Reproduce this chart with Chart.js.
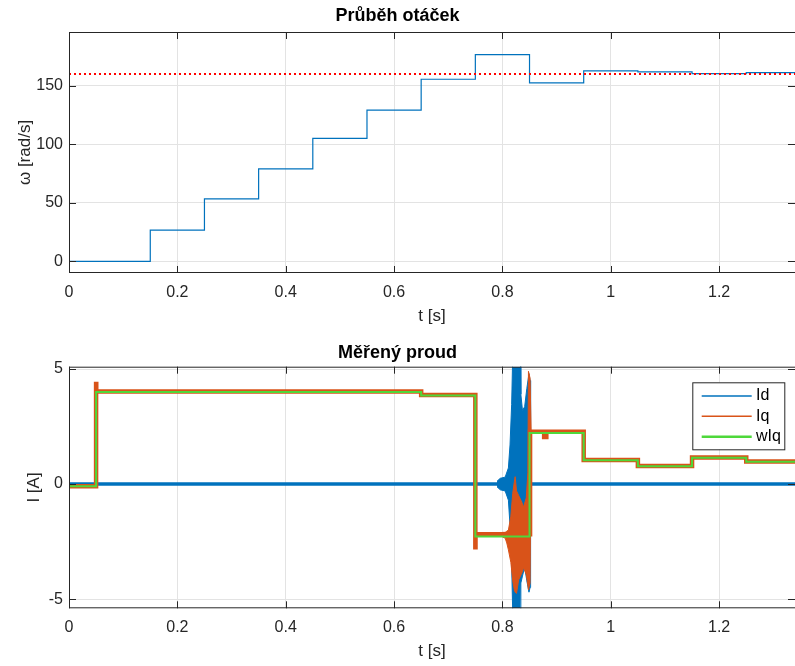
<!DOCTYPE html>
<html>
<head>
<meta charset="utf-8">
<script src="https://cdn.jsdelivr.net/npm/chart.js@4/dist/chart.umd.min.js"></script>
<style>
  html, body { margin: 0; padding: 0; background: #fff; }
  #wrap { position: relative; width: 795px; height: 666px; overflow: hidden; }
  canvas { position: absolute; left: 0; }
  #speed { top: 0; }
  #current { top: 335px; }
</style>
</head>
<body>
<div id="wrap">
  <canvas id="speed" width="795" height="335"></canvas>
  <canvas id="current" width="795" height="331"></canvas>
</div>
<script>
const T_MAX = 1.34;

// Průběh otáček – skoky po 0.1 s
const speedT = [0, 0.15, 0.25, 0.35, 0.45, 0.55, 0.65, 0.75, 0.85, 0.95, 1.05, 1.15, 1.25, 1.34];
const speedW = [0, 26.6, 53.4, 79, 105, 129.2, 155.6, 176.6, 152.5, 162.7, 161.9, 160.5, 161.3, 161.3];
const refT = [0, 1.34];
const refW = [160, 160];

// Měřený proud
const idT = [0, 1.34];
const idI = [0, 0];
const iqT = [0, 0.05, 0.0503, 0.65, 0.75, 0.7503, 0.851, 0.877, 0.881, 0.95, 1.05, 1.15, 1.25, 1.34];
const iqI = [-0.1, 4.35, 4.02, 3.87, -2.75, -2.18, 2.27, 2.05, 2.27, 1.04, 0.78, 1.15, 0.98, 0.98];
const wiqT = [0, 0.05, 0.65, 0.75, 0.85, 0.95, 1.05, 1.15, 1.25, 1.34];
const wiqI = [-0.1, 4.0, 3.85, -2.28, 2.22, 1.03, 0.77, 1.14, 0.97, 0.97];

// rozkmit kolem 0.82 s – horní a dolní obálka
const idBurstT  = [0.790, 0.796, 0.805, 0.811, 0.814, 0.817, 0.819, 0.833, 0.834, 0.837, 0.841, 0.845, 0.849, 0.851, 0.852];
const idBurstHi = [0.12, 0.25, 0.3, 0.7, 1.7, 3.45, 5.6, 5.6, 3.9, 3.2, 3.36, 4.15, 4.8, 4.5, 0.15];
const idBurstLo = [-0.12, -0.25, -0.3, -0.7, -1.8, -3.5, -5.6, -5.6, -4.3, -4.0, -3.6, -4.2, -4.7, -4.5, -0.15];
const iqBurstT  = [0.800, 0.805, 0.808, 0.811, 0.8155, 0.819, 0.822, 0.8235, 0.826, 0.830, 0.836, 0.839, 0.844, 0.847, 0.848, 0.851, 0.853];
const iqBurstHi = [-2.1, -2.1, -2.05, -2.0, -1.4, -0.4, 0.1, 0.32, -0.3, -0.5, -0.8, -1.0, -0.6, 0.5, 4.9, 4.6, 2.3];
const iqBurstLo = [-2.3, -2.35, -2.56, -2.86, -3.4, -4.2, -4.6, -4.7, -4.75, -4.16, -3.86, -3.64, -3.94, -4.4, -4.6, -4.3, 2.1];

const FONT = "'Liberation Sans', Arial, Helvetica, sans-serif";
const C_BLUE = '#0072BD', C_ORANGE = '#D95319', C_GREEN = '#4ED83A';

Chart.defaults.font.family = FONT;
Chart.defaults.color = '#262626';

const pts = (t, v) => t.map((x, i) => ({ x, y: v[i] }));
const fmt = v => String(Math.round(v * 10) / 10);

/* rámeček os + ticky dovnitř (matlab styl) */
const axesBox = {
  id: 'axesBox',
  afterDatasetsDraw(chart) {
    const { ctx, chartArea: a, scales: { x, y } } = chart;
    ctx.save();
    ctx.strokeStyle = '#262626';
    ctx.lineWidth = 1;
    ctx.strokeRect(a.left + 0.5, a.top + 0.5, a.right - a.left, a.bottom - a.top - 1);
    ctx.beginPath();
    x.ticks.forEach(t => {
      const p = Math.round(x.getPixelForValue(t.value)) + 0.5;
      ctx.moveTo(p, a.bottom); ctx.lineTo(p, a.bottom - 7);
      ctx.moveTo(p, a.top); ctx.lineTo(p, a.top + 7);
    });
    y.ticks.forEach(t => {
      const p = Math.round(y.getPixelForValue(t.value)) + 0.5;
      ctx.moveTo(a.left, p); ctx.lineTo(a.left + 7, p);
      ctx.moveTo(a.right, p); ctx.lineTo(a.right - 7, p);
    });
    ctx.stroke();
    ctx.restore();
  }
};

/* legenda uvnitř grafu */
const insetLegend = {
  id: 'insetLegend',
  afterDraw(chart, args, o) {
    if (!o.display) return;
    const { ctx, chartArea: a } = chart;
    const items = chart.data.datasets.slice(0, o.count);
    const x0 = a.right - o.right - o.width, y0 = a.top + o.top;
    ctx.save();
    ctx.fillStyle = '#fff';
    ctx.fillRect(x0, y0, o.width, o.height);
    ctx.strokeStyle = '#262626';
    ctx.lineWidth = 1;
    ctx.strokeRect(x0 + 0.5, y0 + 0.5, o.width, o.height);
    ctx.font = `16px ${FONT}`;
    ctx.textBaseline = 'middle';
    items.forEach((ds, i) => {
      const cy = y0 + 13.7 + i * 20.35;
      ctx.strokeStyle = ds.borderColor;
      ctx.lineWidth = i === 2 ? 2.5 : 1.5;
      ctx.beginPath();
      ctx.moveTo(x0 + 9.4, cy); ctx.lineTo(x0 + 59.4, cy);
      ctx.stroke();
      ctx.fillStyle = '#000';
      ctx.fillText(ds.label, x0 + 63.7, cy);
    });
    ctx.restore();
  }
};

function makeScales(o) {
  return {
    x: {
      type: 'linear', min: 0, max: T_MAX,
      ticks: { stepSize: 0.2, includeBounds: false, padding: o.xTickPad, maxRotation: 0, autoSkip: false,
               font: { size: 16 }, color: '#262626', callback: fmt },
      grid: { color: '#e3e3e3', drawTicks: false },
      border: { display: false },
      title: { display: true, text: 't [s]', font: { size: 17 }, color: '#262626',
               padding: { top: 0, bottom: o.xTitlePad } },
      afterFit: s => { s.height = o.xH; }
    },
    y: {
      type: 'linear', min: o.yMin, max: o.yMax,
      ticks: { stepSize: o.yStep, includeBounds: false, padding: 6, font: { size: 16 }, color: '#262626', callback: fmt },
      grid: { color: '#e3e3e3', drawTicks: false },
      border: { display: false },
      title: { display: true, text: o.yTitle, font: { size: 17 }, color: '#262626',
               padding: { top: o.yTitlePad, bottom: 0 } },
      afterFit: s => { s.width = 69; }
    }
  };
}

function titleOpts(text, pt, pb) {
  return { display: true, text, color: '#000', font: { size: 18, weight: 'bold' }, padding: { top: pt, bottom: pb } };
}

/* ─── horní graf: otáčky ─── */
new Chart(document.getElementById('speed'), {
  type: 'line',
  data: {
    datasets: [
      { label: 'ref', data: pts(refT, refW), borderColor: '#FF0000', borderWidth: 2, borderDash: [2, 3],
        pointRadius: 0, order: 1 },
      { label: 'ω', data: pts(speedT, speedW), borderColor: C_BLUE, borderWidth: 1.2, stepped: true,
        pointRadius: 0, order: 2 }
    ]
  },
  options: {
    responsive: false, animation: false,
    layout: { padding: 0 },
    plugins: { legend: { display: false }, tooltip: { enabled: false },
               title: titleOpts('Průběh otáček', 5.5, 4.9) },
    scales: makeScales({ yMin: -10, yMax: 196, yStep: 50, yTitle: 'ω [rad/s]', yTitlePad: 14.8,
                         xH: 62, xTickPad: 9.5, xTitlePad: 8.3 })
  },
  plugins: [axesBox]
});

/* ─── dolní graf: proudy ─── */
new Chart(document.getElementById('current'), {
  type: 'line',
  data: {
    datasets: [
      { label: 'Id', data: pts(idT, idI), borderColor: C_BLUE, borderWidth: 3.5, pointRadius: 0, order: 6 },
      { label: 'Iq', data: pts(iqT, iqI), borderColor: C_ORANGE, borderWidth: 4.5, stepped: true, pointRadius: 0, order: 4 },
      { label: 'wIq', data: pts(wiqT, wiqI), borderColor: C_GREEN, borderWidth: 2, stepped: true, pointRadius: 0, order: 1 },
      { label: 'Id+', data: pts(idBurstT, idBurstHi), borderColor: C_BLUE, backgroundColor: C_BLUE, borderWidth: 1,
        fill: '+1', pointRadius: 0, order: 5 },
      { label: 'Id-', data: pts(idBurstT, idBurstLo), borderColor: C_BLUE, borderWidth: 1, pointRadius: 0, order: 5 },
      { label: 'Iq+', data: pts(iqBurstT, iqBurstHi), borderColor: C_ORANGE, backgroundColor: C_ORANGE, borderWidth: 1,
        fill: '+1', pointRadius: 0, order: 3 },
      { label: 'Iq-', data: pts(iqBurstT, iqBurstLo), borderColor: C_ORANGE, borderWidth: 1, pointRadius: 0, order: 3 }
    ]
  },
  options: {
    responsive: false, animation: false,
    layout: { padding: 0 },
    plugins: { legend: { display: false }, tooltip: { enabled: false },
               title: titleOpts('Měřený proud', 7.5, 2.6),
               insetLegend: { display: true, count: 3, width: 92, height: 67, right: 10.7, top: 15.6 } },
    scales: makeScales({ yMin: -5.4, yMax: 5.1, yStep: 5, yTitle: 'I [A]', yTitlePad: 23.8,
                         xH: 57.7, xTickPad: 10, xTitlePad: 4.5 })
  },
  plugins: [axesBox, insetLegend]
});
</script>
</body>
</html>
